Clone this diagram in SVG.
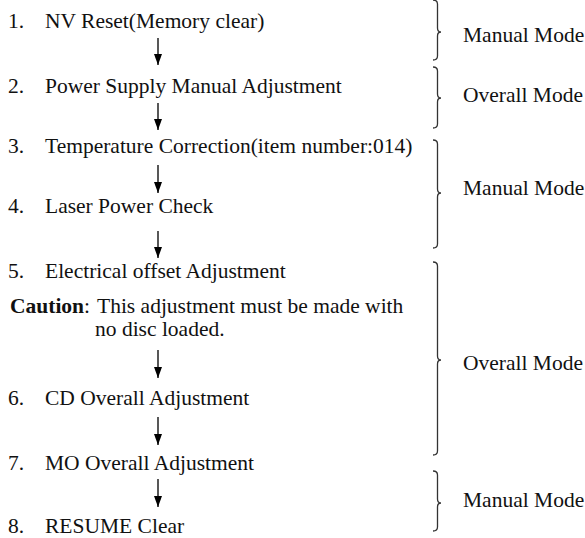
<svg xmlns="http://www.w3.org/2000/svg" width="585" height="538" viewBox="0 0 585 538">
<defs>
<marker id="arr" markerUnits="userSpaceOnUse" markerWidth="11" markerHeight="8" refX="11" refY="4" orient="auto" viewBox="0 0 11 8">
<path d="M0,0 L11,4 L0,8 Z" fill="#000"/>
</marker>
</defs>
<style>
text{font-family:"Liberation Serif","Times New Roman",serif;font-size:21.5px;fill:#111}
.b{font-weight:bold}
.c{stroke:#111;stroke-width:1.4;fill:none}
.br{stroke:#333;stroke-width:1.3;fill:none}
</style>
<g id="step1"><text x="8" y="28">1.</text><text x="45" y="28">NV Reset(Memory clear)</text></g>
<g id="step2"><text x="8" y="93">2.</text><text x="45" y="93">Power Supply Manual Adjustment</text></g>
<g id="step3"><text x="8" y="153">3.</text><text x="45" y="153">Temperature Correction(item number:014)</text></g>
<g id="step4"><text x="8" y="213">4.</text><text x="45" y="213">Laser Power Check</text></g>
<g id="step5"><text x="8" y="278">5.</text><text x="45" y="278">Electrical offset Adjustment</text>
<text x="10" y="313"><tspan class="b">Caution</tspan>:</text><text x="97" y="313">This adjustment must be made with</text>
<text x="95" y="336">no disc loaded.</text></g>
<g id="step6"><text x="8" y="405">6.</text><text x="45" y="405">CD Overall Adjustment</text></g>
<g id="step7"><text x="8" y="470">7.</text><text x="45" y="470">MO Overall Adjustment</text></g>
<g id="step8"><text x="8" y="533">8.</text><text x="45" y="533">RESUME Clear</text></g>
<g id="connectors">
<line class="c" x1="158" y1="38" x2="158" y2="65" marker-end="url(#arr)"/>
<line class="c" x1="158" y1="103" x2="158" y2="130" marker-end="url(#arr)"/>
<line class="c" x1="158" y1="165" x2="158" y2="193" marker-end="url(#arr)"/>
<line class="c" x1="158" y1="231" x2="158" y2="258" marker-end="url(#arr)"/>
<line class="c" x1="158" y1="350" x2="158" y2="378" marker-end="url(#arr)"/>
<line class="c" x1="158" y1="417" x2="158" y2="445" marker-end="url(#arr)"/>
<line class="c" x1="158" y1="479" x2="158" y2="507" marker-end="url(#arr)"/>
</g>
<g id="mode1"><path class="br" d="M433,0 Q437.5,0 437.5,4 L437.5,28 Q437.5,32 441,32 Q437.5,32 437.5,36 L437.5,56 Q437.5,60 433,60"/><text x="463" y="42">Manual Mode</text></g>
<g id="mode2"><path class="br" d="M433,67 Q437.5,67 437.5,71 L437.5,94 Q437.5,98 441,98 Q437.5,98 437.5,102 L437.5,124 Q437.5,128 433,128"/><text x="463" y="102">Overall Mode</text></g>
<g id="mode3"><path class="br" d="M433,140 Q437.5,140 437.5,144 L437.5,189 Q437.5,193 441,193 Q437.5,193 437.5,197 L437.5,244 Q437.5,248 433,248"/><text x="463" y="195">Manual Mode</text></g>
<g id="mode4"><path class="br" d="M433,262 Q437.5,262 437.5,266 L437.5,356 Q437.5,360 441,360 Q437.5,360 437.5,364 L437.5,451 Q437.5,455 433,455"/><text x="463" y="370">Overall Mode</text></g>
<g id="mode5"><path class="br" d="M433,471 Q437.5,471 437.5,475 L437.5,499 Q437.5,503 441,503 Q437.5,503 437.5,507 L437.5,527 Q437.5,531 433,531"/><text x="463" y="507">Manual Mode</text></g>
</svg>
